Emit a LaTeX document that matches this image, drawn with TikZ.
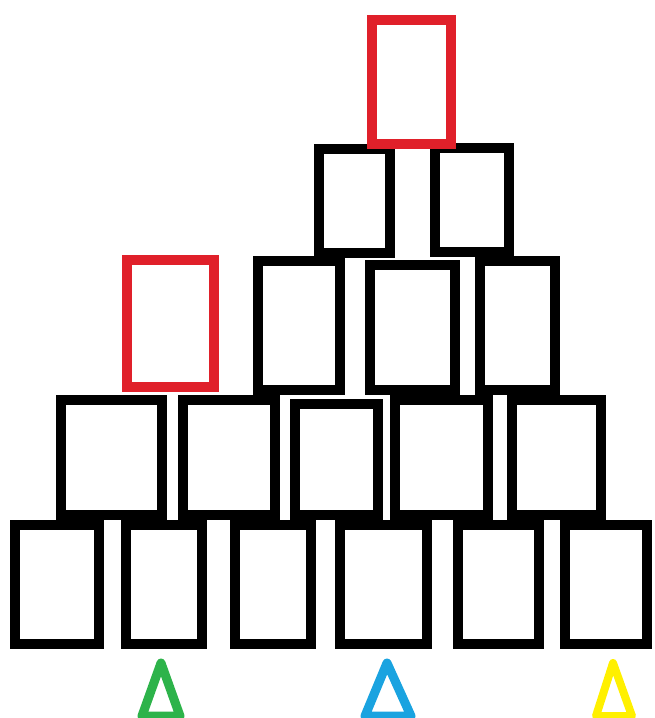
\documentclass[tikz,border=0pt]{standalone}
\usetikzlibrary{positioning}
\definecolor{cupred}{RGB}{224,32,42}
\definecolor{mkgreen}{RGB}{45,179,74}
\definecolor{mkblue}{RGB}{26,163,224}
\definecolor{mkyellow}{RGB}{255,240,0}
\tikzset{
  cup/.style={draw=black, line width=10pt, inner sep=0pt, fill=none},
  redcup/.style={cup, draw=cupred},
  marker/.style={line width=9pt, line join=round}
}
\begin{document}
\begin{tikzpicture}[x=1pt,y=-1pt]
\useasboundingbox (0,0) rectangle (654,718);
% bottom row
\node[cup, minimum width=84pt, minimum height=119pt] (a1) at (57,584.5) {};
\node[cup, minimum width=76pt, minimum height=119pt] (a2) at (164,584.5) {};
\node[cup, minimum width=76pt, minimum height=119pt] (a3) at (273,584.5) {};
\node[cup, minimum width=87pt, minimum height=119pt] (a4) at (383.5,584.5) {};
\node[cup, minimum width=81pt, minimum height=119pt] (a5) at (498.5,584.5) {};
\node[cup, minimum width=82pt, minimum height=119pt] (a6) at (606,584.5) {};
% second row
\node[cup, minimum width=101pt, minimum height=115pt] (b1) at (111.5,457.5) {};
\node[cup, minimum width=92pt, minimum height=115pt] (b2) at (229,457.5) {};
\node[cup, minimum width=83pt, minimum height=111pt] (b3) at (336.5,459.5) {};
\node[cup, minimum width=93pt, minimum height=115pt] (b4) at (441.5,457.5) {};
\node[cup, minimum width=89pt, minimum height=115pt] (b5) at (556.5,457.5) {};
% third row
\node[cup, minimum width=82pt, minimum height=129pt] (c1) at (299,325.5) {};
\node[cup, minimum width=85pt, minimum height=125pt] (c2) at (412.5,327.5) {};
\node[cup, minimum width=75pt, minimum height=129pt] (c3) at (517.5,325.5) {};
% fourth row
\node[cup, minimum width=71pt, minimum height=104pt] (d1) at (354.5,201) {};
\node[cup, minimum width=74pt, minimum height=104pt] (d2) at (472,199.5) {};
% red cups
\node[redcup, minimum width=79pt, minimum height=124pt] (r1) at (411.5,82) {};
\node[redcup, minimum width=87pt, minimum height=127pt] (r2) at (170.5,323.5) {};
% markers
\coordinate (g1) at (161,663); \coordinate (g2) at (142,716); \coordinate (g3) at (180,716);
\coordinate (u1) at (387,663); \coordinate (u2) at (365,716); \coordinate (u3) at (411,716);
\coordinate (y1) at (613,663); \coordinate (y2) at (596,716); \coordinate (y3) at (632,716);
\draw[marker, draw=mkgreen] (g1) -- (g2) -- (g3) -- cycle;
\draw[marker, draw=mkblue] (u1) -- (u2) -- (u3) -- cycle;
\draw[marker, draw=mkyellow, line width=8pt] (y1) -- (y2) -- (y3) -- cycle;
\end{tikzpicture}
\end{document}
